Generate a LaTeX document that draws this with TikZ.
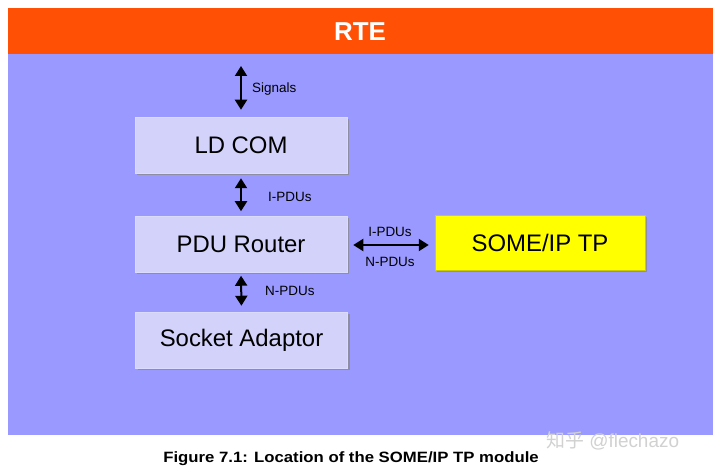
\documentclass[tikz,border=0pt]{standalone}
\usepackage{fontspec}
\setmainfont{Liberation Sans}
\newfontfamily\cjkfont{Noto Sans CJK SC}
\usetikzlibrary{arrows.meta,shadows}
\definecolor{bgblue}{RGB}{153,153,255}
\definecolor{rteorange}{RGB}{255,80,5}
\definecolor{boxfill}{RGB}{210,210,250}
\definecolor{someyellow}{RGB}{255,255,0}
\tikzset{
  modbox/.style={minimum width=212bp, minimum height=56bp, inner sep=0pt,
    fill=boxfill, draw=boxfill!80!white, line width=0.5bp,
    drop shadow={shadow xshift=2bp, shadow yshift=-2bp, fill=black!45, opacity=0.8},
    font=\fontsize{24}{28}\selectfont},
  dblarrow/.style={line width=2bp, {Triangle[width=12bp,length=10bp]}-{Triangle[width=12bp,length=10bp]}},
  lbl/.style={font=\fontsize{13.5}{16}\selectfont, inner sep=0pt}
}
\begin{document}
\begin{tikzpicture}[x=1bp,y=-1bp]
\useasboundingbox (0,0) rectangle (720,470);
\fill[white] (0,0) rectangle (720,470);
\node[fill=bgblue, minimum width=705bp, minimum height=381bp, inner sep=0pt, anchor=north west] (panel) at (8,54) {};
\node[fill=rteorange, minimum width=705bp, minimum height=46bp, inner sep=0pt, anchor=north west] (rte) at (8,8) {};
\node[text=white, font=\bfseries\fontsize{26}{30}\selectfont] (rtetext) at (360,32) {RTE};

\node[modbox] (ldcom) at (241,145) {LD COM};
\node[modbox] (pdur) at (241,244.5) {PDU Router};
\node[modbox] (sock) at (241.5,340) {Socket Adaptor};
\node[modbox, fill=someyellow, draw=someyellow!80!black, minimum width=210bp, minimum height=55bp] (sometp) at (540,242.5) {SOME/IP TP};

\coordinate (sigtop) at (241,66);
\draw[dblarrow] (sigtop) -- ([yshift=7bp]ldcom.north);
\draw[dblarrow, shorten <=5bp, shorten >=5bp] (ldcom.south) -- (pdur.north);
\draw[dblarrow, shorten <=3bp, shorten >=6bp] (pdur.south) -- (sock.north);
\draw[dblarrow, shorten <=6bp, shorten >=6bp] ([yshift=-0.5bp]pdur.east) -- ([yshift=-0.5bp]pdur.east -| sometp.west);

\node[lbl, anchor=west] (lsig) at (252,89) {Signals};
\node[lbl, anchor=west] (lipdu) at (268,197) {I-PDUs};
\node[lbl, anchor=west] (lnpdu) at (265,291) {N-PDUs};
\node[lbl] (hipdu) at (390,232) {I-PDUs};
\node[lbl] (hnpdu) at (390,262) {N-PDUs};

\node[font=\bfseries\fontsize{15}{18}\selectfont, inner sep=0pt, xscale=1.12] (caption) at (351,459) {Figure 7.1: Location of the SOME/IP TP module};
\node[font=\fontsize{19}{22}\selectfont, text=black!18, inner sep=0pt, anchor=west] (wm) at (546,441) {{\cjkfont 知乎} @flechazo};
\end{tikzpicture}
\end{document}
